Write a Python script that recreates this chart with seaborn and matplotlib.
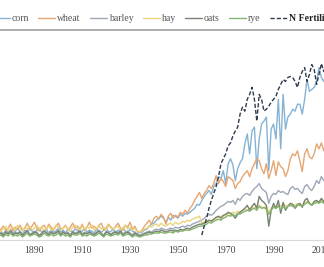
import numpy as np
import pandas as pd
import seaborn as sns
import matplotlib
matplotlib.use("Agg")
import matplotlib.pyplot as plt
from matplotlib.lines import Line2D

years = list(range(1875, 2013))
n_years = list(range(1960, 2013))

corn = [5,7,4,8,6,9,5,7,10,6, 4,8,6,9,7,5,8,10,6,7, 9,5,8,6,7,10,6,8,5,9,
        7,6,9,8,5,7,10,6,8,7, 5,9,7,6,8,10,6,7,9,5, 8,6,10,7,5,9,7,6,4,6,
        6,8,9,12,14,15,18,20,22,20, 16,21,18,23,22,20,24,22,25,24, 26,28,30,34,33,
        38,42,45,48,44,52,55,62,60,68, 55,75,80,74,58,70,76,80,95,105,
        85,108,112,70,100,115,118,122,68,110, 115,100,140,90,145,110,122,125,130,128,
        135,135,125,140,160,148,150,152,158,172, 162,158,165]
wheat = [6,9,12,8,10,14,7,11,9,13, 8,10,15,9,12,16,10,7,11,13, 9,14,11,8,12,15,9,10,13,8,
         11,15,10,12,9,14,8,11,16,10, 12,9,13,15,8,10,14,11,9,12, 15,10,8,13,11,16,9,12,7,6,
         8,12,15,18,14,20,22,19,24,21, 14,22,25,20,23,21,26,24,28,25, 30,33,38,42,46,
         40,45,48,53,50,55,63,55,60,57, 52,62,60,58,50,55,57,62,65,68,
         62,70,75,80,78,70,65,75,60,68, 78,63,77,72,70,62,68,80,85,83,
         88,78,67,85,90,82,80,85,95,90, 96,88,94]
barley = [4,6,3,7,5,8,4,6,5,7, 3,6,8,4,5,7,6,3,5,8, 6,4,7,5,6,8,4,7,5,6,
          3,7,5,6,8,4,6,5,7,5, 4,6,8,5,3,7,6,4,6,7, 5,8,4,6,7,5,3,6,4,3,
          4,5,6,7,6,8,9,8,10,9, 8,9,10,9,11,10,11,12,11,13, 12,14,15,16,17,
          18,20,22,24,23,25,28,30,32,33, 35,37,36,38,34,40,38,42,44,45,
          43,47,50,52,55,50,48,46,35,42, 45,44,48,46,47,45,44,50,52,49,
          50,47,45,52,54,50,48,52,58,55, 62,58,63]
hay = [8,6,10,12,7,9,11,8,13,10, 7,11,9,12,8,10,13,9,11,7, 10,12,8,9,13,11,8,10,12,9,
       7,11,13,10,8,12,9,11,10,13, 8,10,12,9,11,8,13,10,9,11, 12,8,10,13,9,11,8,10,6,7,
       7,9,10,12,11,13,14,12,15,13, 12,14,15,13,16,14,15,17,16,18, 17,19,20,21,22,
       15,16,17,18,18,19,20,21,22,22, 23,25,24,26,25,27,26,28,29,28,
       30,31,30,32,33,31,30,32,26,30, 32,31,33,32,34,33,32,35,34,33,
       35,34,33,36,37,35,34,36,37,36, 38,36,38]
oats = [3,5,2,6,4,7,3,5,4,6, 2,5,7,3,4,6,5,2,4,7, 5,3,6,4,5,7,3,6,4,5,
        2,6,4,5,7,3,5,4,6,4, 3,5,7,4,2,6,5,3,5,6, 4,7,3,5,6,4,2,5,3,2,
        3,4,5,6,5,6,7,6,8,7, 6,7,8,7,8,7,9,8,9,10, 9,11,12,13,14,
        14,15,16,18,17,19,21,22,20,23, 24,26,25,23,20,24,26,28,30,33,
        28,32,35,30,42,38,36,33,12,28, 35,30,38,25,36,28,32,35,34,30,
        33,35,31,38,40,35,33,37,38,36, 40,37,38]
rye = [2,3,1,4,2,5,2,3,2,4, 1,3,5,2,3,4,3,1,2,5, 3,2,4,2,3,5,2,4,2,3,
       1,4,3,3,5,2,3,2,4,3, 2,3,5,3,1,4,3,2,3,4, 3,5,2,3,4,3,1,3,2,1,
       2,3,3,4,4,5,5,5,6,5, 5,6,6,5,7,6,7,7,8,8, 8,9,10,11,12,
       12,13,14,16,15,17,18,19,18,20, 21,23,22,24,22,25,24,26,27,28,
       27,29,30,28,32,30,31,29,24,28, 31,30,32,29,31,30,32,33,32,31,
       34,33,32,34,36,35,33,35,36,35, 37,35,36]
n_fert = [3,12,20,30,38,45,52,62,75,80, 85,93,96,103,108,112,125,132,128,140,
          145,152,140,118,145,140,128,130,133,137, 140,143,150,155,160,158,162,163,162,158,
          152,162,168,172,158,165,175,170,155,165, 176,168,178]

labels = ["corn", "wheat", "barley", "hay", "oats", "rye", "N Fertilizer"]
colors = ["#86b3d3", "#e6a672", "#9ea7b6", "#e9d37c", "#75836f", "#86b56f", "#2e3b4e"]

frames = []
for name, vals in zip(labels[:6], [corn, wheat, barley, hay, oats, rye]):
    frames.append(pd.DataFrame({"year": years, "value": vals, "series": name}))
frames.append(pd.DataFrame({"year": n_years, "value": n_fert, "series": "N Fertilizer"}))
df = pd.concat(frames, ignore_index=True)

sns.set_theme(style="white")
plt.rcParams['font.family'] = ['Liberation Serif', 'DejaVu Serif']

fig = plt.figure(figsize=(3.24, 2.67), dpi=100)
ax = fig.add_axes([0.0, 0.101, 1.0, 0.787])

sns.lineplot(data=df, x="year", y="value", hue="series", hue_order=labels,
             palette=dict(zip(labels, colors)), style="series", style_order=labels,
             dashes={l: ((3, 1.5) if l == "N Fertilizer" else "") for l in labels},
             linewidth=1.0, ax=ax, legend=False)

ax.set_xlim(1875.6, 2011.1)
ax.set_ylim(-2, 210)
ax.set_xticks(list(range(1890, 2011, 20)))
ax.set_xticklabels([str(y) for y in range(1890, 2011, 20)])
ax.set_yticks([])
ax.set_xlabel("")
ax.set_ylabel("")
ax.tick_params(axis="x", length=0, pad=4, labelsize=7, labelcolor="#444444")
for s in ["left", "right"]:
    ax.spines[s].set_visible(False)
ax.spines["bottom"].set_color("#d9d9d9")
ax.spines["bottom"].set_linewidth(0.8)
ax.spines["top"].set_color("#a0a0a0")
ax.spines["top"].set_linewidth(1.2)

handles = []
for l, c in zip(labels, colors):
    if l == "N Fertilizer":
        handles.append(Line2D([], [], color=c, lw=1.0, linestyle=(0, (3, 1.5))))
    else:
        handles.append(Line2D([], [], color=c, lw=1.0))
leg = ax.legend(handles, labels, loc="lower left", bbox_to_anchor=(-0.04, 1.005),
                ncol=7, frameon=False, fontsize=7, handlelength=1.75,
                handletextpad=0.2, columnspacing=0.95, borderaxespad=0.2)
for t in leg.get_texts():
    t.set_color("#555555")
leg.get_texts()[-1].set_color("#222222")
leg.get_texts()[-1].set_fontweight("bold")

fig.savefig("out.png", dpi=100)
